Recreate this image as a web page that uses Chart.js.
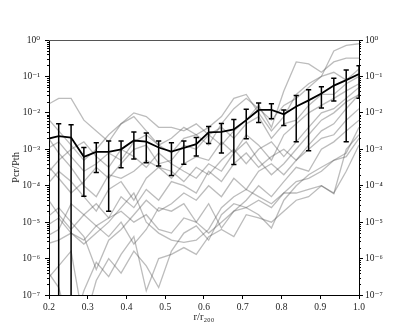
<!DOCTYPE html>
<html>
<head>
<meta charset="utf-8">
<script src="https://cdn.jsdelivr.net/npm/chart.js@4.4.1/dist/chart.umd.min.js"></script>
<style>
  html, body { margin: 0; padding: 0; background: #fff; }
</style>
</head>
<body>
<canvas id="ratioChart" width="399" height="332"></canvas>
<script>
// Radial bins (r/r200) shared by the stack and by every single cluster profile
const radii = [0.193, 0.225, 0.257, 0.290, 0.322, 0.354, 0.386, 0.419, 0.451, 0.483, 0.516, 0.548, 0.580,
  0.612, 0.645, 0.677, 0.709, 0.741, 0.774, 0.806, 0.838, 0.870, 0.903, 0.935, 0.967, 1.000];

// Stacked (median) Pcr/Pth with its spread
const meanRatio = [1.9e-3, 2.3e-3, 2.1e-3, 6.2e-4, 8.5e-4, 8.5e-4, 1.0e-3, 1.74e-3, 1.62e-3, 1.12e-3, 8.7e-4, 1.1e-3, 1.38e-3,
  2.9e-3, 3.0e-3, 3.5e-3, 6.3e-3, 1.2e-2, 1.2e-2, 9.1e-3, 1.5e-2, 2.2e-2, 3.4e-2, 5.6e-2, 7.9e-2, 1.17e-1];
const errHigh = [4.5e-3, 5.0e-3, 4.7e-3, 1.12e-3, 1.5e-3, 1.7e-3, 1.7e-3, 3.0e-3, 2.8e-3, 1.7e-3, 1.5e-3, 1.7e-3, 2.1e-3,
  4.2e-3, 5.1e-3, 6.6e-3, 1.26e-2, 1.86e-2, 1.78e-2, 1.2e-2, 3.0e-2, 4.3e-2, 5.2e-2, 8.9e-2, 1.5e-1, 1.95e-1];
const errLow = [1e-9, 1e-9, 1e-9, 5.1e-5, 2.3e-4, 2.0e-5, 3.1e-4, 5.4e-4, 4.3e-4, 3.5e-4, 1.9e-4, 3.9e-4, 6.5e-4,
  1.45e-3, 7.9e-4, 3.8e-4, 1.95e-3, 5.4e-3, 6.9e-3, 4.5e-3, 1.6e-3, 9.1e-4, 1.35e-2, 2.1e-2, 1.6e-3, 2.5e-2];

// Individual cluster profiles (grey)
const clusterRatios = [
  [1.6e-2, 2.5e-2, 2.5e-2, 6.3e-3, 3.2e-3, 1.6e-3, 5.0e-3, 7.9e-3, 3.2e-3, 1.3e-3, 7.9e-4, 2.0e-3, 2.5e-3, 1.3e-3, 5.0e-3, 1.3e-2, 2.5e-2, 1.3e-2, 6.3e-3, 1.6e-2, 2.5e-2, 5.0e-2, 1.0e-1, 5.0e-1, 7.1e-1, 7.9e-1],
  [7.9e-3, 3.2e-3, 1.3e-3, 5.0e-4, 1.0e-3, 2.5e-3, 5.0e-3, 1.0e-2, 7.9e-3, 4.0e-3, 4.0e-3, 3.2e-3, 5.0e-3, 2.5e-3, 1.3e-3, 3.2e-3, 6.3e-3, 1.6e-2, 4.0e-3, 4.0e-2, 2.5e-1, 2.2e-1, 1.3e-1, 2.5e-1, 3.2e-1, 3.2e-1],
  [1.0e-3, 1.6e-3, 6.3e-4, 2.5e-4, 4.0e-4, 7.9e-4, 5.0e-4, 1.6e-3, 2.5e-3, 1.3e-3, 2.0e-3, 4.0e-3, 2.5e-3, 4.0e-3, 7.9e-3, 2.5e-2, 3.2e-2, 1.0e-2, 3.2e-3, 7.9e-3, 3.2e-2, 6.3e-2, 1.0e-1, 1.3e-1, 7.9e-2, 1.6e-1],
  [4.0e-4, 1.6e-4, 6.3e-5, 1.3e-4, 3.2e-4, 1.6e-4, 4.0e-4, 1.0e-3, 1.3e-3, 4.0e-4, 5.0e-4, 1.3e-3, 1.0e-3, 2.5e-3, 4.0e-3, 2.0e-3, 5.0e-3, 7.9e-3, 2.0e-3, 5.0e-3, 6.3e-3, 1.6e-2, 3.2e-2, 3.2e-2, 6.3e-2, 1.0e-1],
  [2.5e-3, 7.9e-4, 3.2e-4, 1.0e-4, 5.0e-5, 2.0e-4, 1.6e-4, 2.5e-4, 5.0e-4, 3.2e-4, 1.6e-4, 4.0e-4, 6.3e-4, 5.0e-4, 1.6e-3, 7.9e-4, 2.5e-3, 1.3e-3, 5.0e-4, 2.5e-3, 5.0e-3, 1.0e-2, 1.6e-2, 2.5e-2, 4.0e-2, 6.3e-2],
  [1.0e-4, 2.5e-4, 1.3e-4, 5.0e-5, 2.0e-5, 7.9e-5, 1.3e-4, 4.0e-5, 1.6e-4, 3.2e-4, 2.5e-4, 1.3e-4, 3.2e-4, 2.0e-4, 5.0e-4, 1.0e-3, 4.0e-4, 1.0e-3, 1.6e-3, 6.3e-4, 1.6e-3, 4.0e-3, 1.0e-2, 1.3e-2, 2.5e-2, 5.0e-2],
  [5.0e-5, 1.6e-5, 6.3e-6, 1.6e-5, 3.2e-5, 1.3e-5, 5.0e-5, 2.5e-5, 7.9e-5, 4.0e-5, 1.3e-4, 1.0e-4, 6.3e-5, 2.5e-4, 1.3e-4, 4.0e-4, 7.9e-4, 3.2e-4, 6.3e-4, 1.0e-3, 5.0e-4, 1.3e-3, 3.2e-3, 5.0e-3, 1.3e-2, 3.2e-2],
  [1.3e-5, 2.5e-5, 1.0e-5, 4.0e-6, 5.0e-7, 3.2e-6, 6.3e-6, 1.6e-5, 4.0e-5, 2.0e-5, 3.2e-5, 6.3e-5, 4.0e-5, 1.0e-4, 5.0e-5, 1.6e-4, 7.9e-5, 2.5e-4, 4.0e-4, 2.0e-4, 5.0e-4, 1.0e-3, 2.0e-3, 2.5e-3, 6.3e-3, 1.3e-2],
  [4.0e-6, 6.3e-6, 3.2e-5, 1.6e-5, 7.9e-6, 1.3e-5, 2.0e-5, 1.0e-5, 1.6e-5, 6.3e-6, 5.0e-6, 1.3e-5, 1.0e-5, 3.2e-5, 6.9e-6, 2.0e-5, 4.0e-5, 1.0e-4, 5.0e-5, 1.3e-4, 3.2e-4, 2.5e-4, 1.0e-3, 1.6e-3, 3.2e-3, 6.3e-3],
  [2.5e-6, 3.2e-6, 5.0e-6, 2.5e-6, 5.0e-6, 1.0e-5, 2.5e-5, 6.3e-5, 1.0e-5, 5.0e-6, 3.2e-6, 2.8e-6, 3.2e-6, 6.3e-6, 2.5e-5, 5.0e-5, 7.9e-5, 5.0e-5, 3.2e-5, 6.3e-5, 6.3e-5, 7.9e-5, 1.0e-4, 6.0e-5, 1.0e-3, 2.5e-3],
  [7.9e-6, 1.3e-5, 5.0e-6, 3.2e-6, 7.9e-6, 4.0e-6, 1.0e-5, 2.5e-6, 6.3e-6, 2.5e-5, 2.0e-5, 3.2e-5, 1.0e-5, 5.0e-6, 1.0e-5, 2.0e-5, 2.5e-5, 1.6e-5, 6.9e-6, 4.0e-5, 1.0e-4, 2.0e-4, 3.2e-4, 5.0e-4, 7.9e-4, 4.0e-3],
  [5.0e-7, 1.6e-7, 1.0e-8, 1.3e-7, 7.9e-7, 3.2e-7, 1.3e-6, 4.0e-6, 1.3e-7, 1.0e-6, 1.3e-6, 2.0e-6, 1.3e-6, 4.0e-6, 6.3e-6, 4.0e-6, 1.6e-5, 1.3e-5, 1.0e-5, 2.0e-5, 4.0e-5, 5.0e-5, 1.0e-4, 6.3e-5, 2.5e-4, 1.3e-3],
  [2.5e-7, 6.3e-7, 1.6e-6, 1.6e-8, 2.5e-7, 1.0e-6, 4.0e-7, 1.6e-6, 6.3e-7, 1.6e-7, 1.6e-6, 5.0e-6, 7.9e-6, 3.2e-6, 1.6e-5, 3.2e-5, 2.5e-5, 4.0e-5, 2.5e-5, 6.3e-5, 1.3e-4, 1.6e-4, 2.5e-4, 5.0e-4, 6.3e-4, 2.0e-3],
  [2.0e-4, 5.0e-4, 1.0e-3, 1.6e-3, 6.3e-4, 3.2e-4, 1.0e-3, 6.3e-4, 3.2e-4, 7.9e-4, 4.0e-4, 2.5e-4, 1.6e-4, 4.0e-4, 2.5e-4, 7.9e-4, 1.6e-3, 5.0e-4, 2.0e-4, 4.0e-4, 1.0e-3, 2.5e-3, 6.3e-3, 1.0e-2, 2.0e-2, 3.2e-2]
];

// Axis ranges and ticks
const xRange = [0.2, 1.0];
const yRange = [1e-7, 1];
const yTickValues = [1e-7, 1e-6, 1e-5, 1e-4, 1e-3, 1e-2, 1e-1, 1];

const SUP = { "0": "⁰", "1": "¹", "2": "²", "3": "³", "4": "⁴", "5": "⁵", "6": "⁶", "7": "⁷", "8": "⁸", "9": "⁹", "-": "⁻" };
const powerLabel = (v) => {
  const n = String(Math.round(Math.log10(v)));
  return "10" + n.split("").map((c) => SUP[c]).join("");
};

const serif = "'Liberation Serif', 'DejaVu Serif', serif";

// Error bars and small decorations drawn on top of the datasets
const errorBars = {
  id: "errorBars",
  afterDatasetsDraw(chart) {
    const { ctx, chartArea, scales } = chart;
    ctx.save();
    ctx.beginPath();
    ctx.rect(chartArea.left, chartArea.top, chartArea.right - chartArea.left, chartArea.bottom - chartArea.top);
    ctx.clip();
    ctx.strokeStyle = "#000";
    ctx.lineWidth = 1.5;
    radii.forEach((r, i) => {
      const px = scales.x.getPixelForValue(r);
      const top = scales.y.getPixelForValue(errHigh[i]);
      const bot = scales.y.getPixelForValue(errLow[i]);
      ctx.beginPath();
      ctx.moveTo(px, top);
      ctx.lineTo(px, bot);
      ctx.moveTo(px - 2.6, top);
      ctx.lineTo(px + 2.6, top);
      ctx.moveTo(px - 2.6, bot);
      ctx.lineTo(px + 2.6, bot);
      ctx.stroke();
    });
    ctx.restore();
  },
  afterDraw(chart) {
    const { ctx, chartArea, scales } = chart;
    ctx.save();
    // top frame line
    ctx.strokeStyle = "#555";
    ctx.lineWidth = 1;
    ctx.beginPath();
    ctx.moveTo(chartArea.left, Math.round(chartArea.top) + 0.5);
    ctx.lineTo(chartArea.right, Math.round(chartArea.top) + 0.5);
    ctx.stroke();
    // minor log ticks on both y axes
    ctx.strokeStyle = "#000";
    ctx.beginPath();
    for (let e = -7; e < 0; e++) {
      for (let k = 2; k <= 9; k++) {
        const py = Math.round(scales.y.getPixelForValue(k * Math.pow(10, e))) + 0.5;
        ctx.moveTo(chartArea.left - 2, py);
        ctx.lineTo(chartArea.left, py);
        ctx.moveTo(chartArea.right, py);
        ctx.lineTo(chartArea.right + 2, py);
      }
    }
    ctx.stroke();
    ctx.restore();
  },
};

const greyDatasets = clusterRatios.map((vals) => ({
  data: radii.map((r, i) => ({ x: r, y: vals[i] })),
  borderColor: "rgba(80, 80, 80, 0.38)",
  borderWidth: 1.3,
  pointRadius: 0,
  fill: false,
}));

const yAxis = (position, width, extra) =>
  Object.assign(
    {
      type: "logarithmic",
      position: position,
      min: yRange[0],
      max: yRange[1],
      afterBuildTicks: (s) => {
        s.ticks = yTickValues.map((v) => ({ value: v, major: true }));
      },
      afterFit: (s) => {
        s.width = width;
      },
      ticks: {
        callback: (v) => powerLabel(v),
        font: { family: serif, size: 9.5 },
        color: "#222",
        padding: position === "left" ? 5 : 2,
        autoSkip: false,
      },
      grid: { drawOnChartArea: false, drawTicks: true, tickLength: 4, color: "#000" },
      border: { color: "#000", width: 1 },
    },
    extra || {}
  );

new Chart(document.getElementById("ratioChart"), {
  type: "line",
  data: {
    datasets: [
      {
        data: radii.map((r, i) => ({ x: r, y: meanRatio[i] })),
        borderColor: "#000",
        borderWidth: 1.8,
        pointRadius: 0,
        fill: false,
      },
    ].concat(greyDatasets),
  },
  options: {
    responsive: false,
    animation: false,
    devicePixelRatio: 1,
    layout: { padding: { top: 40, left: 0, right: 0, bottom: 0 } },
    plugins: { legend: { display: false }, tooltip: { enabled: false } },
    scales: {
      x: {
        type: "linear",
        min: xRange[0],
        max: xRange[1],
        afterFit: (s) => {
          s.height = 37;
        },
        ticks: {
          stepSize: 0.1,
          callback: (v) => v.toFixed(1),
          font: { family: serif, size: 9.5 },
          color: "#222",
          padding: 3,
        },
        grid: { drawOnChartArea: false, drawTicks: true, tickLength: 4, color: "#000" },
        border: { color: "#000", width: 1 },
        title: {
          display: true,
          text: "r/r₂₀₀",
          font: { family: serif, size: 10.5 },
          color: "#222",
          padding: { top: 0, bottom: 8 },
        },
      },
      y: yAxis("left", 49, {
        title: {
          display: true,
          text: "Pcr/Pth",
          font: { family: serif, size: 10.5 },
          color: "#222",
          padding: { top: 10, bottom: 0 },
        },
      }),
      y2: yAxis("right", 40),
    },
  },
  plugins: [errorBars],
});
</script>
</body>
</html>
